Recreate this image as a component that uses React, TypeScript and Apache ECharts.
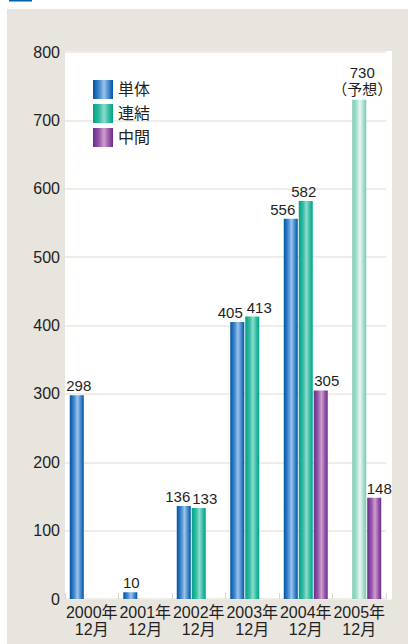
import React, { useEffect, useRef } from "react";
import * as echarts from "echarts";

const categories = ["2000年\n12月", "2001年\n12月", "2002年\n12月", "2003年\n12月", "2004年\n12月", "2005年\n12月"];
const seriesNames = ["単体", "連結", "中間"];
const tanTai: (number | null)[] = [298, 10, 136, 405, 556, null];
const renKetsu: (number | null)[] = [null, null, 133, 413, 582, 730];
const chuKan: (number | null)[] = [null, null, null, null, 305, 148];
const forecastIndex = 5;
const forecastNote = "（予想）";
const yTicks = { min: 0, max: 800, interval: 100 };

// horizontal nudges of value labels (px), as placed in the reference
const tanTaiLabelDx = [2, 1, -6, -7, -8, 0];
const renKetsuLabelDx = [0, 0, 6, 7, -2, 3];
const chuKanLabelDx = [0, 0, 0, 0, 6, 5];

const FONT = "'Liberation Sans', Arial, 'Noto Sans CJK JP', sans-serif";
const TXT = "#231f20";

const grad = (edge: string, mid: string, center: string) =>
  new echarts.graphic.LinearGradient(0, 0, 1, 0, [
    { offset: 0, color: edge },
    { offset: 0.3, color: mid },
    { offset: 0.55, color: center },
    { offset: 0.8, color: mid },
    { offset: 1, color: edge },
  ]);

export default function App() {
  const ref = useRef<HTMLDivElement>(null);
  useEffect(() => {
    if (!ref.current) return;
    const chart = echarts.init(ref.current, undefined, { renderer: "svg" });
    const blue = grad("#0053a4", "#3f86cc", "#9cc4ea");
    const green = grad("#00a286", "#2fbba2", "#8edccb");
    const purple = grad("#682c8e", "#9656a8", "#cf9fcd");
    const paleGreen = grad("#78ccb4", "#a5ddcc", "#eaf8f2");
    const labelStyle = { show: true, position: "top" as const, distance: 2, fontSize: 15, color: TXT, fontFamily: FONT };
    const toData = (arr: (number | null)[], dx: number[], isGreen = false) =>
      arr.map((v, i) => {
        if (v === null) return "-";
        if (isGreen && i === forecastIndex) {
          return {
            value: v,
            itemStyle: { color: paleGreen },
            label: { formatter: `${v}\n${forecastNote}`, lineHeight: 17, offset: [dx[i], 0] },
          };
        }
        return { value: v, label: { offset: [dx[i], 0] } };
      });
    chart.setOption({
      animation: false,
      graphic: [
        { type: "rect", shape: { x: 9, y: 0, width: 23, height: 1.5 }, style: { fill: "#0060b0" }, silent: true, z: -10 },
        { type: "rect", shape: { x: 7, y: 9, width: 401, height: 635 }, style: { fill: "#e8e4de" }, silent: true, z: -10 },
        { type: "rect", shape: { x: 65, y: 51, width: 327, height: 548.5 }, style: { fill: "#ffffff" }, silent: true, z: -9 },
      ],
      grid: { left: 65, right: 22, top: 52, bottom: 45, containLabel: false },
      legend: {
        orient: "vertical",
        left: 88,
        top: 75,
        itemWidth: 20,
        itemHeight: 19,
        itemGap: 5,
        icon: "rect",
        data: seriesNames,
        textStyle: { fontSize: 16, color: TXT, fontFamily: FONT },
      },
      xAxis: {
        type: "category",
        data: categories,
        axisLine: { show: false },
        axisTick: { show: true, inside: true, length: 6, lineStyle: { color: "#d9d5cf" } },
        axisLabel: { interval: 0, fontSize: 16, color: TXT, fontFamily: FONT, lineHeight: 17, margin: 5 },
      },
      yAxis: {
        type: "value",
        min: yTicks.min,
        max: yTicks.max,
        interval: yTicks.interval,
        axisLine: { show: false },
        axisTick: { show: false },
        axisLabel: { fontSize: 16, color: TXT, fontFamily: FONT, margin: 5 },
        splitLine: { lineStyle: { color: "#ebe6e0", width: 1.5 } },
      },
      series: [
        { name: seriesNames[0], type: "bar", data: toData(tanTai, tanTaiLabelDx), barWidth: 14, barGap: "7%", itemStyle: { color: blue }, label: labelStyle },
        { name: seriesNames[1], type: "bar", data: toData(renKetsu, renKetsuLabelDx, true), barWidth: 14, barGap: "7%", itemStyle: { color: green }, label: labelStyle },
        { name: seriesNames[2], type: "bar", data: toData(chuKan, chuKanLabelDx), barWidth: 14, barGap: "7%", itemStyle: { color: purple }, label: labelStyle },
      ],
    });
    return () => chart.dispose();
  }, []);
  return (
    <div
      ref={ref}
      style={{ position: "fixed", left: 0, top: 0, width: 408, height: 644, background: "#ffffff" }}
    />
  );
}
